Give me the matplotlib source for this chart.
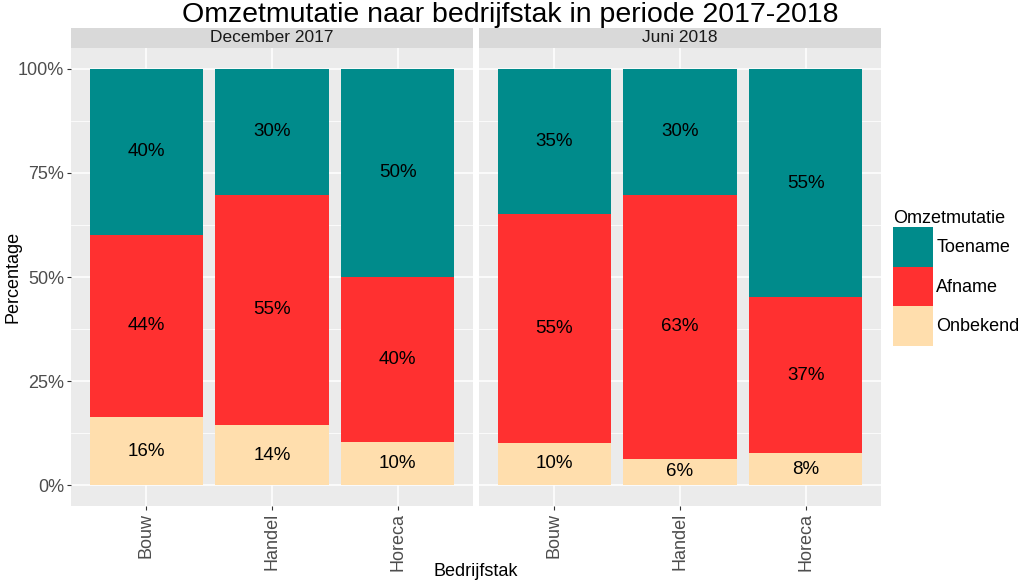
import matplotlib.pyplot as plt
from matplotlib.patches import Patch
from matplotlib.ticker import FixedLocator, PercentFormatter
import numpy as np

plt.rcParams['font.family'] = ['Liberation Sans', 'DejaVu Sans']

sectoren = ['Bouw', 'Handel', 'Horeca']
perioden = ['December 2017', 'Juni 2018']
categorieen = ['Toename', 'Afname', 'Onbekend']
kleuren = {'Toename': '#008B8B', 'Afname': '#FF3030', 'Onbekend': '#FFDEAD'}

# fractions per sector, per period
onbekend = {'December 2017': [0.163, 0.144, 0.104], 'Juni 2018': [0.102, 0.064, 0.077]}
afname = {'December 2017': [0.439, 0.554, 0.396], 'Juni 2018': [0.550, 0.634, 0.374]}
toename = {'December 2017': [0.398, 0.302, 0.500], 'Juni 2018': [0.348, 0.302, 0.549]}

fig = plt.figure(figsize=(10.23, 5.86), dpi=100)
W, H = 1023, 586
panels = [(71, 473), (479, 881)]
top_px, bot_px = 48, 506

x = np.arange(1, len(sectoren) + 1)
for i, per in enumerate(perioden):
    x0, x1 = panels[i]
    ax = fig.add_axes([x0 / W, 1 - bot_px / H, (x1 - x0) / W, (bot_px - top_px) / H])
    ax.set_facecolor('#EBEBEB')
    bottom = np.zeros(len(sectoren))
    for cat, vals in [('Onbekend', onbekend[per]), ('Afname', afname[per]), ('Toename', toename[per])]:
        vals = np.array(vals)
        ax.bar(x, vals, 0.9, bottom=bottom, color=kleuren[cat], zorder=3)
        for xi, b, v in zip(x, bottom, vals):
            ax.text(xi, b + v / 2, f'{round(v * 100):.0f}%', ha='center', va='center',
                    fontsize=13.5, color='black', zorder=4)
        bottom += vals
    ax.set_xlim(0.4, 3.6)
    ax.set_ylim(-0.05, 1.05)
    ax.yaxis.set_major_locator(FixedLocator([0, 0.25, 0.5, 0.75, 1.0]))
    ax.yaxis.set_minor_locator(FixedLocator([0.125, 0.375, 0.625, 0.875]))
    ax.yaxis.set_major_formatter(PercentFormatter(1.0, decimals=0))
    ax.set_xticks(x)
    ax.set_xticklabels(sectoren, rotation=90, fontsize=13, color='#4D4D4D')
    ax.grid(which='major', color='white', linewidth=1.1, zorder=0)
    ax.grid(which='minor', axis='y', color='white', linewidth=0.55, zorder=0)
    ax.set_axisbelow(True)
    for s in ax.spines.values():
        s.set_visible(False)
    ax.tick_params(axis='both', which='major', length=3, color='#333333', labelsize=13,
                   labelcolor='#4D4D4D', pad=2)
    ax.tick_params(axis='y', which='minor', length=0)
    if i > 0:
        ax.tick_params(axis='y', which='major', length=0, labelleft=False)
    # strip
    sax = fig.add_axes([x0 / W, 1 - top_px / H, (x1 - x0) / W, 20 / H])
    sax.set_facecolor('#D9D9D9')
    sax.set_xticks([])
    sax.set_yticks([])
    for s in sax.spines.values():
        s.set_visible(False)
    sax.text(0.5, 0.5, per, ha='center', va='center', fontsize=12.5, color='#1A1A1A',
             transform=sax.transAxes)

fig.text(510 / W, 1 - 15 / H, 'Omzetmutatie naar bedrijfstak in periode 2017-2018',
         ha='center', va='center', fontsize=20.5)
fig.text(476 / W, 1 - 572 / H, 'Bedrijfstak', ha='center', va='center', fontsize=13)
fig.text(13 / W, 1 - 277 / H, 'Percentage', ha='center', va='center', fontsize=13, rotation=90)

handles = [Patch(facecolor=kleuren[c], edgecolor='none') for c in categorieen]
leg = fig.legend(handles, categorieen, loc='upper left', bbox_to_anchor=(893 / W, 1 - 210 / H),
                 frameon=False, fontsize=13, title='Omzetmutatie', title_fontsize=13,
                 handlelength=2.2, handleheight=3.0, labelspacing=0, handletextpad=0.2,
                 borderpad=0, borderaxespad=0, alignment='left')

fig.savefig('out.png', dpi=100)
